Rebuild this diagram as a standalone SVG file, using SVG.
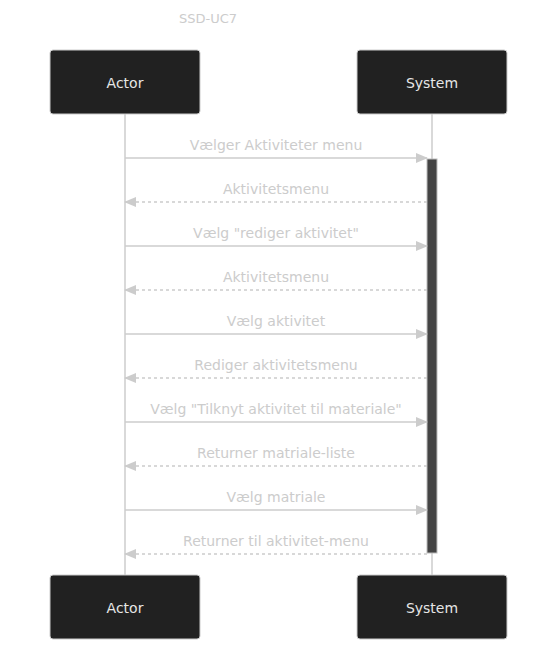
<svg xmlns="http://www.w3.org/2000/svg" width="557" height="651" viewBox="0 0 557 651">
<defs>
<style>
.box{fill:#212121;stroke:#cccccc;stroke-width:1}
.bt{fill:#e6e6e6;font-family:"DejaVu Sans",Verdana,sans-serif;font-size:14px;text-anchor:middle;dominant-baseline:central}
.life{stroke:#cccccc;stroke-width:1.5}
.msg{stroke:#cccccc;stroke-width:1.5;fill:none}
.dash{stroke-dasharray:3,3}
.ml{fill:#cccccc;font-family:"DejaVu Sans",Verdana,sans-serif;font-size:14px;text-anchor:middle}
.title{fill:#cccccc;font-family:"DejaVu Sans",Verdana,sans-serif;font-size:13px;text-anchor:middle}
</style>
<marker id="ah" markerWidth="12" markerHeight="10" refX="11" refY="5" orient="auto" markerUnits="userSpaceOnUse">
<path d="M0,0 L12,5 L0,10 z" fill="#cccccc"/>
</marker>
</defs>
<rect width="557" height="651" fill="#ffffff"/>
<text class="title" x="208" y="23">SSD-UC7</text>
<g id="lifelines">
<line class="life" x1="125" y1="114" x2="125" y2="575"/>
<line class="life" x1="432" y1="114" x2="432" y2="575"/>
</g>
<g id="actor-top"><rect class="box" x="50" y="50" width="150" height="64" rx="3"/><text class="bt" x="125" y="83">Actor</text></g>
<g id="system-top"><rect class="box" x="357" y="50" width="150" height="64" rx="3"/><text class="bt" x="432" y="83">System</text></g>
<g id="actor-bottom"><rect class="box" x="50" y="575" width="150" height="64" rx="3"/><text class="bt" x="125" y="608">Actor</text></g>
<g id="system-bottom"><rect class="box" x="357" y="575" width="150" height="64" rx="3"/><text class="bt" x="432" y="608">System</text></g>
<g id="activation"><rect x="427" y="159" width="10" height="394" fill="#444444" stroke="#bbbbbb" stroke-width="1"/></g>
<g id="connectors">
<line class="msg" x1="125" y1="158" x2="427" y2="158" marker-end="url(#ah)"/>
<line class="msg dash" x1="427" y1="202" x2="125" y2="202" marker-end="url(#ah)"/>
<line class="msg" x1="125" y1="246" x2="427" y2="246" marker-end="url(#ah)"/>
<line class="msg dash" x1="427" y1="290" x2="125" y2="290" marker-end="url(#ah)"/>
<line class="msg" x1="125" y1="334" x2="427" y2="334" marker-end="url(#ah)"/>
<line class="msg dash" x1="427" y1="378" x2="125" y2="378" marker-end="url(#ah)"/>
<line class="msg" x1="125" y1="422" x2="427" y2="422" marker-end="url(#ah)"/>
<line class="msg dash" x1="427" y1="466" x2="125" y2="466" marker-end="url(#ah)"/>
<line class="msg" x1="125" y1="510" x2="427" y2="510" marker-end="url(#ah)"/>
<line class="msg dash" x1="427" y1="554" x2="125" y2="554" marker-end="url(#ah)"/>
</g>
<g id="labels">
<text class="ml" x="276" y="150">Vælger Aktiviteter menu</text>
<text class="ml" x="276" y="194">Aktivitetsmenu</text>
<text class="ml" x="276" y="238">Vælg "rediger aktivitet"</text>
<text class="ml" x="276" y="282">Aktivitetsmenu</text>
<text class="ml" x="276" y="326">Vælg aktivitet</text>
<text class="ml" x="276" y="370">Rediger aktivitetsmenu</text>
<text class="ml" x="276" y="414">Vælg "Tilknyt aktivitet til materiale"</text>
<text class="ml" x="276" y="458">Returner matriale-liste</text>
<text class="ml" x="276" y="502">Vælg matriale</text>
<text class="ml" x="276" y="546">Returner til aktivitet-menu</text>
</g>
</svg>
